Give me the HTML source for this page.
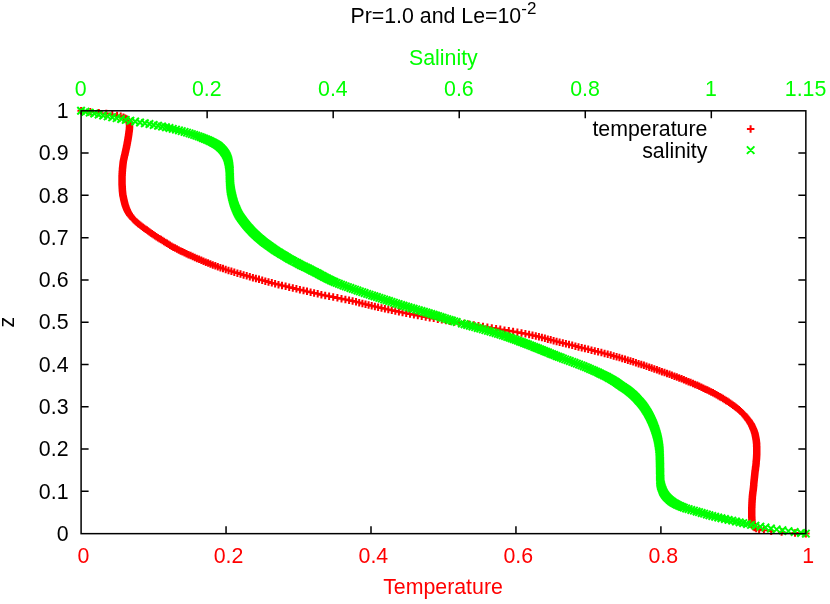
<!DOCTYPE html>
<html>
<head>
<meta charset="utf-8">
<title>Pr=1.0 and Le=10^-2</title>
<style>
html,body{margin:0;padding:0;background:#ffffff;}
body{width:830px;height:604px;overflow:hidden;font-family:"Liberation Sans",sans-serif;}
#wrap{width:830px;height:604px;will-change:transform;transform:translateZ(0);}
svg text{font-family:"Liberation Sans",sans-serif;}
</style>
</head>
<body>
<div id="wrap"><svg width="830" height="604" viewBox="0 0 830 604" style="display:block"><rect x="0" y="0" width="830" height="604" fill="#ffffff"/><g style="font-family:'Liberation Sans',sans-serif;font-size:21.33px"><text x="443.4" y="23.4" text-anchor="middle" fill="#000">Pr=1.0 and Le=10<tspan font-size="17" dy="-9.6">-2</tspan></text><text x="443.4" y="64.6" text-anchor="middle" fill="#00ff00">Salinity</text><text x="443.0" y="594" text-anchor="middle" fill="#ff0000">Temperature</text><text x="80.8" y="96.3" text-anchor="middle" fill="#00ff00">0</text><text x="206.8" y="96.3" text-anchor="middle" fill="#00ff00">0.2</text><text x="332.9" y="96.3" text-anchor="middle" fill="#00ff00">0.4</text><text x="458.9" y="96.3" text-anchor="middle" fill="#00ff00">0.6</text><text x="585.0" y="96.3" text-anchor="middle" fill="#00ff00">0.8</text><text x="711.0" y="96.3" text-anchor="middle" fill="#00ff00">1</text><text x="805.6" y="96.3" text-anchor="middle" fill="#00ff00">1.15</text><text x="83.5" y="562.7" text-anchor="middle" fill="#ff0000">0</text><text x="228.5" y="562.7" text-anchor="middle" fill="#ff0000">0.2</text><text x="373.4" y="562.7" text-anchor="middle" fill="#ff0000">0.4</text><text x="518.3" y="562.7" text-anchor="middle" fill="#ff0000">0.6</text><text x="663.3" y="562.7" text-anchor="middle" fill="#ff0000">0.8</text><text x="808.2" y="562.7" text-anchor="middle" fill="#ff0000">1</text><text x="68.5" y="540.8" text-anchor="end" fill="#000">0</text><text x="68.5" y="498.5" text-anchor="end" fill="#000">0.1</text><text x="68.5" y="456.2" text-anchor="end" fill="#000">0.2</text><text x="68.5" y="413.9" text-anchor="end" fill="#000">0.3</text><text x="68.5" y="371.6" text-anchor="end" fill="#000">0.4</text><text x="68.5" y="329.3" text-anchor="end" fill="#000">0.5</text><text x="68.5" y="287.0" text-anchor="end" fill="#000">0.6</text><text x="68.5" y="244.8" text-anchor="end" fill="#000">0.7</text><text x="68.5" y="202.5" text-anchor="end" fill="#000">0.8</text><text x="68.5" y="160.2" text-anchor="end" fill="#000">0.9</text><text x="68.5" y="117.9" text-anchor="end" fill="#000">1</text><text transform="translate(14.2 322.2) rotate(-90)" text-anchor="middle" fill="#000">z</text><text x="707.4" y="135.8" text-anchor="end" fill="#000">temperature</text><text x="707.4" y="157.7" text-anchor="end" fill="#000">salinity</text></g><path d="M77.4 110.8h7.5M81.1 107.0v7.5M86.6 111.7h7.5M90.3 108.0v7.5M95.1 112.7h7.5M98.8 108.9v7.5M102.5 113.6h7.5M106.3 109.8v7.5M108.6 114.5h7.5M112.3 110.8v7.5M113.4 115.4h7.5M117.1 111.7v7.5M117.0 116.3h7.5M120.7 112.6v7.5M119.6 117.2h7.5M123.4 113.5v7.5M121.6 118.1h7.5M125.3 114.4v7.5M122.9 119.0h7.5M126.7 115.3v7.5M123.9 119.9h7.5M127.7 116.1v7.5M124.6 120.7h7.5M128.3 117.0v7.5M125.1 121.6h7.5M128.8 117.8v7.5M125.4 122.4h7.5M129.2 118.7v7.5M125.6 123.3h7.5M129.4 119.5v7.5M125.7 124.1h7.5M129.5 120.3v7.5M125.8 124.9h7.5M129.5 121.2v7.5M125.8 125.7h7.5M129.6 122.0v7.5M125.8 126.5h7.5M129.5 122.8v7.5M125.8 127.3h7.5M129.5 123.5v7.5M125.7 128.1h7.5M129.5 124.3v7.5M125.7 128.8h7.5M129.4 125.1v7.5M125.6 129.6h7.5M129.3 125.9v7.5M125.5 130.4h7.5M129.3 126.6v7.5M125.4 131.1h7.5M129.2 127.4v7.5M125.3 131.9h7.5M129.1 128.1v7.5M125.2 132.6h7.5M129.0 128.9v7.5M125.1 133.4h7.5M128.9 129.6v7.5M125.0 134.1h7.5M128.8 130.4v7.5M124.9 134.9h7.5M128.6 131.1v7.5M124.8 135.6h7.5M128.5 131.9v7.5M124.7 136.4h7.5M128.4 132.6v7.5M124.5 137.2h7.5M128.3 133.4v7.5M124.4 137.9h7.5M128.2 134.2v7.5M124.3 138.7h7.5M128.1 135.0v7.5M124.2 139.5h7.5M127.9 135.7v7.5M124.0 140.3h7.5M127.8 136.5v7.5M123.9 141.1h7.5M127.6 137.3v7.5M123.7 141.9h7.5M127.5 138.1v7.5M123.6 142.7h7.5M127.3 139.0v7.5M123.4 143.5h7.5M127.2 139.8v7.5M123.3 144.4h7.5M127.0 140.6v7.5M123.1 145.2h7.5M126.8 141.5v7.5M122.9 146.1h7.5M126.7 142.3v7.5M122.8 147.0h7.5M126.5 143.2v7.5M122.6 147.8h7.5M126.3 144.1v7.5M122.4 148.7h7.5M126.2 145.0v7.5M122.2 149.6h7.5M126.0 145.9v7.5M122.0 150.5h7.5M125.8 146.8v7.5M121.8 151.4h7.5M125.6 147.7v7.5M121.6 152.3h7.5M125.4 148.6v7.5M121.4 153.3h7.5M125.2 149.5v7.5M121.2 154.2h7.5M124.9 150.4v7.5M121.0 155.1h7.5M124.7 151.4v7.5M120.7 156.1h7.5M124.5 152.3v7.5M120.5 157.0h7.5M124.3 153.2v7.5M120.3 157.9h7.5M124.0 154.2v7.5M120.1 158.9h7.5M123.8 155.1v7.5M119.9 159.8h7.5M123.6 156.1v7.5M119.7 160.8h7.5M123.4 157.0v7.5M119.5 161.7h7.5M123.3 158.0v7.5M119.4 162.7h7.5M123.1 158.9v7.5M119.3 163.6h7.5M123.0 159.9v7.5M119.2 164.5h7.5M122.9 160.8v7.5M119.1 165.5h7.5M122.8 161.7v7.5M119.0 166.4h7.5M122.7 162.7v7.5M118.9 167.4h7.5M122.6 163.6v7.5M118.8 168.3h7.5M122.6 164.6v7.5M118.7 169.3h7.5M122.5 165.5v7.5M118.7 170.2h7.5M122.4 166.5v7.5M118.6 171.2h7.5M122.3 167.4v7.5M118.5 172.1h7.5M122.3 168.4v7.5M118.5 173.1h7.5M122.2 169.3v7.5M118.4 174.0h7.5M122.2 170.3v7.5M118.4 175.0h7.5M122.1 171.2v7.5M118.3 175.9h7.5M122.1 172.2v7.5M118.3 176.9h7.5M122.0 173.1v7.5M118.3 177.8h7.5M122.0 174.1v7.5M118.3 178.8h7.5M122.0 175.0v7.5M118.3 179.7h7.5M122.0 176.0v7.5M118.3 180.7h7.5M122.0 176.9v7.5M118.3 181.6h7.5M122.0 177.9v7.5M118.3 182.6h7.5M122.0 178.8v7.5M118.3 183.5h7.5M122.1 179.8v7.5M118.3 184.5h7.5M122.1 180.7v7.5M118.4 185.4h7.5M122.1 181.7v7.5M118.4 186.4h7.5M122.2 182.6v7.5M118.5 187.3h7.5M122.2 183.6v7.5M118.5 188.3h7.5M122.3 184.5v7.5M118.6 189.2h7.5M122.3 185.5v7.5M118.6 190.2h7.5M122.4 186.4v7.5M118.7 191.1h7.5M122.5 187.4v7.5M118.8 192.1h7.5M122.5 188.3v7.5M118.9 193.0h7.5M122.6 189.3v7.5M119.0 194.0h7.5M122.7 190.2v7.5M119.1 194.9h7.5M122.8 191.2v7.5M119.3 195.9h7.5M123.0 192.1v7.5M119.5 196.8h7.5M123.2 193.1v7.5M119.7 197.8h7.5M123.4 194.0v7.5M119.9 198.7h7.5M123.6 195.0v7.5M120.1 199.7h7.5M123.8 195.9v7.5M120.3 200.6h7.5M124.1 196.9v7.5M120.5 201.6h7.5M124.3 197.8v7.5M120.8 202.5h7.5M124.5 198.8v7.5M121.0 203.5h7.5M124.8 199.7v7.5M121.3 204.4h7.5M125.1 200.7v7.5M121.6 205.4h7.5M125.3 201.6v7.5M121.9 206.3h7.5M125.6 202.6v7.5M122.2 207.3h7.5M126.0 203.5v7.5M122.6 208.2h7.5M126.3 204.5v7.5M123.0 209.2h7.5M126.7 205.4v7.5M123.4 210.1h7.5M127.1 206.4v7.5M123.8 211.1h7.5M127.6 207.3v7.5M124.3 212.0h7.5M128.1 208.3v7.5M124.9 213.0h7.5M128.6 209.2v7.5M125.5 213.9h7.5M129.2 210.2v7.5M126.1 214.9h7.5M129.9 211.1v7.5M126.8 215.8h7.5M130.6 212.1v7.5M127.6 216.8h7.5M131.3 213.0v7.5M128.4 217.7h7.5M132.1 214.0v7.5M129.2 218.7h7.5M132.9 214.9v7.5M130.1 219.6h7.5M133.8 215.9v7.5M131.1 220.6h7.5M134.8 216.8v7.5M132.1 221.5h7.5M135.8 217.8v7.5M133.2 222.5h7.5M136.9 218.7v7.5M134.3 223.4h7.5M138.0 219.7v7.5M135.4 224.4h7.5M139.2 220.6v7.5M136.6 225.3h7.5M140.4 221.6v7.5M137.9 226.3h7.5M141.6 222.5v7.5M139.2 227.2h7.5M142.9 223.5v7.5M140.5 228.2h7.5M144.2 224.4v7.5M141.8 229.1h7.5M145.6 225.4v7.5M143.1 230.1h7.5M146.9 226.3v7.5M144.4 231.0h7.5M148.2 227.3v7.5M145.7 232.0h7.5M149.5 228.2v7.5M147.0 232.9h7.5M150.8 229.2v7.5M148.4 233.9h7.5M152.1 230.1v7.5M149.7 234.8h7.5M153.5 231.1v7.5M151.2 235.8h7.5M154.9 232.0v7.5M152.7 236.7h7.5M156.4 233.0v7.5M154.2 237.7h7.5M157.9 233.9v7.5M155.7 238.6h7.5M159.5 234.9v7.5M157.3 239.6h7.5M161.0 235.8v7.5M158.8 240.5h7.5M162.5 236.8v7.5M160.3 241.5h7.5M164.0 237.7v7.5M161.7 242.4h7.5M165.5 238.7v7.5M163.2 243.4h7.5M167.0 239.6v7.5M164.7 244.3h7.5M168.5 240.5v7.5M166.3 245.2h7.5M170.0 241.5v7.5M167.9 246.2h7.5M171.6 242.4v7.5M169.6 247.1h7.5M173.3 243.4v7.5M171.3 248.1h7.5M175.1 244.3v7.5M173.1 249.0h7.5M176.9 245.3v7.5M175.0 250.0h7.5M178.7 246.2v7.5M176.9 250.9h7.5M180.6 247.2v7.5M178.8 251.8h7.5M182.5 248.1v7.5M180.7 252.8h7.5M184.5 249.0v7.5M182.7 253.7h7.5M186.5 250.0v7.5M184.8 254.7h7.5M188.5 250.9v7.5M186.8 255.6h7.5M190.6 251.8v7.5M188.9 256.5h7.5M192.7 252.8v7.5M191.0 257.5h7.5M194.8 253.7v7.5M193.2 258.4h7.5M196.9 254.7v7.5M195.3 259.3h7.5M199.1 255.6v7.5M197.5 260.3h7.5M201.3 256.5v7.5M199.8 261.2h7.5M203.5 257.4v7.5M202.0 262.1h7.5M205.8 258.4v7.5M204.3 263.1h7.5M208.1 259.3v7.5M206.7 264.0h7.5M210.4 260.2v7.5M209.1 264.9h7.5M212.8 261.2v7.5M211.5 265.8h7.5M215.3 262.1v7.5M214.1 266.7h7.5M217.8 263.0v7.5M216.6 267.7h7.5M220.4 263.9v7.5M219.2 268.6h7.5M223.0 264.8v7.5M221.9 269.5h7.5M225.7 265.7v7.5M224.7 270.4h7.5M228.5 266.7v7.5M227.6 271.3h7.5M231.4 267.6v7.5M230.6 272.2h7.5M234.3 268.5v7.5M233.6 273.1h7.5M237.4 269.4v7.5M236.7 274.0h7.5M240.5 270.3v7.5M239.8 274.9h7.5M243.6 271.2v7.5M242.9 275.8h7.5M246.7 272.1v7.5M246.0 276.7h7.5M249.8 273.0v7.5M249.1 277.6h7.5M252.9 273.9v7.5M252.2 278.5h7.5M255.9 274.7v7.5M255.3 279.4h7.5M259.0 275.6v7.5M258.4 280.3h7.5M262.2 276.5v7.5M261.6 281.1h7.5M265.3 277.4v7.5M264.8 282.0h7.5M268.5 278.3v7.5M268.0 282.9h7.5M271.8 279.1v7.5M271.4 283.7h7.5M275.1 280.0v7.5M274.8 284.6h7.5M278.5 280.9v7.5M278.3 285.5h7.5M282.0 281.7v7.5M281.8 286.3h7.5M285.6 282.6v7.5M285.4 287.2h7.5M289.2 283.4v7.5M289.0 288.0h7.5M292.8 284.3v7.5M292.6 288.9h7.5M296.4 285.1v7.5M296.2 289.7h7.5M299.9 285.9v7.5M299.7 290.5h7.5M303.5 286.8v7.5M303.3 291.4h7.5M307.0 287.6v7.5M306.8 292.2h7.5M310.6 288.4v7.5M310.4 293.0h7.5M314.1 289.3v7.5M314.0 293.8h7.5M317.7 290.1v7.5M317.7 294.7h7.5M321.4 290.9v7.5M321.4 295.5h7.5M325.2 291.7v7.5M325.4 296.3h7.5M329.1 292.5v7.5M329.5 297.1h7.5M333.2 293.3v7.5M333.6 297.9h7.5M337.4 294.1v7.5M337.7 298.7h7.5M341.5 294.9v7.5M341.7 299.5h7.5M345.4 295.7v7.5M345.4 300.3h7.5M349.1 296.5v7.5M348.9 301.1h7.5M352.6 297.3v7.5M352.2 301.8h7.5M356.0 298.1v7.5M355.5 302.6h7.5M359.2 298.9v7.5M358.6 303.4h7.5M362.4 299.7v7.5M361.7 304.2h7.5M365.5 300.4v7.5M364.8 304.9h7.5M368.6 301.2v7.5M367.9 305.7h7.5M371.7 302.0v7.5M371.1 306.5h7.5M374.9 302.7v7.5M374.4 307.2h7.5M378.1 303.5v7.5M377.7 308.0h7.5M381.5 304.2v7.5M381.1 308.8h7.5M384.9 305.0v7.5M384.5 309.5h7.5M388.3 305.8v7.5M388.0 310.3h7.5M391.8 306.5v7.5M391.6 311.0h7.5M395.3 307.3v7.5M395.1 311.8h7.5M398.9 308.0v7.5M398.8 312.5h7.5M402.5 308.7v7.5M402.5 313.2h7.5M406.2 309.5v7.5M406.2 314.0h7.5M410.0 310.2v7.5M410.1 314.7h7.5M413.9 311.0v7.5M414.0 315.5h7.5M417.8 311.7v7.5M418.0 316.2h7.5M421.7 312.4v7.5M422.0 316.9h7.5M425.7 313.2v7.5M426.0 317.7h7.5M429.7 313.9v7.5M430.0 318.4h7.5M433.7 314.6v7.5M434.0 319.1h7.5M437.8 315.4v7.5M438.1 319.9h7.5M441.8 316.1v7.5M442.2 320.6h7.5M445.9 316.8v7.5M446.4 321.3h7.5M450.1 317.6v7.5M450.8 322.1h7.5M454.5 318.3v7.5M455.4 322.8h7.5M459.1 319.0v7.5M460.2 323.5h7.5M464.0 319.8v7.5M465.1 324.2h7.5M468.9 320.5v7.5M470.0 325.0h7.5M473.8 321.2v7.5M474.7 325.7h7.5M478.5 322.0v7.5M479.3 326.4h7.5M483.0 322.7v7.5M483.7 327.2h7.5M487.4 323.4v7.5M488.0 327.9h7.5M491.8 324.2v7.5M492.3 328.6h7.5M496.1 324.9v7.5M496.5 329.4h7.5M500.3 325.6v7.5M500.8 330.1h7.5M504.5 326.4v7.5M505.0 330.8h7.5M508.8 327.1v7.5M509.3 331.6h7.5M513.1 327.8v7.5M513.6 332.3h7.5M517.4 328.6v7.5M517.7 333.1h7.5M521.5 329.3v7.5M521.7 333.8h7.5M525.4 330.1v7.5M525.4 334.6h7.5M529.1 330.8v7.5M528.8 335.3h7.5M532.5 331.6v7.5M532.0 336.1h7.5M535.8 332.3v7.5M535.2 336.8h7.5M538.9 333.1v7.5M538.2 337.6h7.5M541.9 333.8v7.5M541.1 338.3h7.5M544.9 334.6v7.5M544.1 339.1h7.5M547.8 335.4v7.5M546.9 339.9h7.5M550.7 336.1v7.5M549.9 340.6h7.5M553.6 336.9v7.5M552.8 341.4h7.5M556.6 337.7v7.5M555.9 342.2h7.5M559.6 338.4v7.5M559.0 343.0h7.5M562.8 339.2v7.5M562.1 343.7h7.5M565.9 340.0v7.5M565.3 344.5h7.5M569.0 340.8v7.5M568.4 345.3h7.5M572.2 341.6v7.5M571.6 346.1h7.5M575.4 342.4v7.5M574.8 346.9h7.5M578.5 343.2v7.5M578.0 347.7h7.5M581.7 344.0v7.5M581.2 348.5h7.5M584.9 344.8v7.5M584.4 349.3h7.5M588.2 345.6v7.5M587.7 350.1h7.5M591.5 346.4v7.5M591.0 350.9h7.5M594.8 347.2v7.5M594.3 351.8h7.5M598.1 348.0v7.5M597.6 352.6h7.5M601.4 348.8v7.5M600.8 353.4h7.5M604.6 349.7v7.5M604.0 354.2h7.5M607.7 350.5v7.5M607.0 355.1h7.5M610.7 351.3v7.5M609.9 355.9h7.5M613.7 352.2v7.5M612.8 356.8h7.5M616.6 353.0v7.5M615.7 357.6h7.5M619.4 353.8v7.5M618.5 358.4h7.5M622.2 354.7v7.5M621.3 359.3h7.5M625.0 355.6v7.5M624.0 360.2h7.5M627.8 356.4v7.5M626.7 361.0h7.5M630.5 357.3v7.5M629.5 361.9h7.5M633.2 358.1v7.5M632.2 362.8h7.5M635.9 359.0v7.5M634.9 363.6h7.5M638.6 359.9v7.5M637.5 364.5h7.5M641.3 360.7v7.5M640.2 365.4h7.5M643.9 361.6v7.5M642.8 366.3h7.5M646.5 362.5v7.5M645.4 367.1h7.5M649.2 363.4v7.5M648.0 368.0h7.5M651.7 364.3v7.5M650.6 368.9h7.5M654.3 365.2v7.5M653.1 369.8h7.5M656.9 366.1v7.5M655.7 370.7h7.5M659.4 367.0v7.5M658.2 371.6h7.5M661.9 367.9v7.5M660.7 372.5h7.5M664.5 368.8v7.5M663.2 373.4h7.5M667.0 369.7v7.5M665.7 374.3h7.5M669.5 370.6v7.5M668.2 375.2h7.5M671.9 371.5v7.5M670.7 376.1h7.5M674.4 372.4v7.5M673.1 377.1h7.5M676.8 373.3v7.5M675.5 378.0h7.5M679.2 374.2v7.5M677.9 378.9h7.5M681.6 375.1v7.5M680.2 379.8h7.5M683.9 376.1v7.5M682.5 380.7h7.5M686.2 377.0v7.5M684.8 381.7h7.5M688.5 377.9v7.5M687.0 382.6h7.5M690.7 378.8v7.5M689.2 383.5h7.5M693.0 379.8v7.5M691.4 384.4h7.5M695.1 380.7v7.5M693.5 385.4h7.5M697.3 381.6v7.5M695.6 386.3h7.5M699.3 382.6v7.5M697.6 387.2h7.5M701.4 383.5v7.5M699.7 388.2h7.5M703.4 384.4v7.5M701.7 389.1h7.5M705.4 385.4v7.5M703.6 390.0h7.5M707.4 386.3v7.5M705.5 391.0h7.5M709.3 387.2v7.5M707.4 391.9h7.5M711.2 388.2v7.5M709.2 392.9h7.5M713.0 389.1v7.5M711.0 393.8h7.5M714.7 390.1v7.5M712.7 394.7h7.5M716.5 391.0v7.5M714.4 395.7h7.5M718.2 391.9v7.5M716.1 396.6h7.5M719.8 392.9v7.5M717.7 397.6h7.5M721.4 393.8v7.5M719.2 398.5h7.5M723.0 394.8v7.5M720.8 399.5h7.5M724.5 395.7v7.5M722.3 400.4h7.5M726.0 396.7v7.5M723.7 401.3h7.5M727.5 397.6v7.5M725.1 402.3h7.5M728.9 398.5v7.5M726.6 403.2h7.5M730.3 399.5v7.5M727.9 404.2h7.5M731.7 400.4v7.5M729.3 405.1h7.5M733.0 401.4v7.5M730.6 406.1h7.5M734.3 402.3v7.5M731.8 407.0h7.5M735.5 403.3v7.5M733.0 408.0h7.5M736.7 404.2v7.5M734.1 408.9h7.5M737.9 405.2v7.5M735.2 409.9h7.5M739.0 406.1v7.5M736.3 410.8h7.5M740.0 407.1v7.5M737.3 411.8h7.5M741.1 408.0v7.5M738.3 412.7h7.5M742.0 409.0v7.5M739.3 413.7h7.5M743.0 409.9v7.5M740.2 414.6h7.5M743.9 410.9v7.5M741.0 415.6h7.5M744.8 411.8v7.5M741.8 416.5h7.5M745.6 412.8v7.5M742.6 417.5h7.5M746.4 413.7v7.5M743.4 418.4h7.5M747.1 414.7v7.5M744.1 419.4h7.5M747.9 415.6v7.5M744.8 420.3h7.5M748.6 416.6v7.5M745.5 421.3h7.5M749.2 417.5v7.5M746.1 422.2h7.5M749.9 418.5v7.5M746.7 423.2h7.5M750.5 419.4v7.5M747.3 424.1h7.5M751.0 420.4v7.5M747.8 425.1h7.5M751.5 421.3v7.5M748.2 426.0h7.5M752.0 422.3v7.5M748.7 427.0h7.5M752.4 423.2v7.5M749.1 427.9h7.5M752.9 424.2v7.5M749.5 428.9h7.5M753.3 425.1v7.5M749.9 429.8h7.5M753.7 426.1v7.5M750.3 430.8h7.5M754.0 427.0v7.5M750.6 431.7h7.5M754.4 428.0v7.5M750.9 432.7h7.5M754.7 428.9v7.5M751.2 433.6h7.5M754.9 429.9v7.5M751.4 434.6h7.5M755.1 430.8v7.5M751.6 435.5h7.5M755.3 431.8v7.5M751.8 436.5h7.5M755.5 432.7v7.5M752.0 437.4h7.5M755.7 433.7v7.5M752.2 438.4h7.5M755.9 434.6v7.5M752.3 439.3h7.5M756.1 435.6v7.5M752.5 440.3h7.5M756.2 436.5v7.5M752.6 441.2h7.5M756.4 437.5v7.5M752.7 442.2h7.5M756.5 438.4v7.5M752.8 443.1h7.5M756.5 439.4v7.5M752.9 444.1h7.5M756.6 440.3v7.5M752.9 445.0h7.5M756.6 441.3v7.5M752.9 446.0h7.5M756.7 442.2v7.5M753.0 446.9h7.5M756.7 443.2v7.5M753.0 447.9h7.5M756.7 444.1v7.5M753.0 448.8h7.5M756.8 445.1v7.5M753.0 449.8h7.5M756.8 446.0v7.5M753.0 450.7h7.5M756.8 447.0v7.5M753.0 451.7h7.5M756.8 447.9v7.5M753.0 452.6h7.5M756.8 448.9v7.5M753.0 453.6h7.5M756.8 449.8v7.5M753.0 454.5h7.5M756.7 450.8v7.5M752.9 455.5h7.5M756.7 451.7v7.5M752.9 456.4h7.5M756.6 452.7v7.5M752.8 457.4h7.5M756.6 453.6v7.5M752.8 458.3h7.5M756.5 454.6v7.5M752.7 459.3h7.5M756.4 455.5v7.5M752.6 460.2h7.5M756.4 456.5v7.5M752.5 461.2h7.5M756.3 457.4v7.5M752.4 462.1h7.5M756.2 458.4v7.5M752.4 463.1h7.5M756.1 459.3v7.5M752.3 464.0h7.5M756.0 460.3v7.5M752.2 465.0h7.5M755.9 461.2v7.5M752.1 465.9h7.5M755.8 462.2v7.5M751.9 466.9h7.5M755.7 463.1v7.5M751.8 467.8h7.5M755.6 464.1v7.5M751.7 468.8h7.5M755.4 465.0v7.5M751.6 469.7h7.5M755.3 466.0v7.5M751.4 470.7h7.5M755.2 466.9v7.5M751.3 471.6h7.5M755.0 467.9v7.5M751.2 472.6h7.5M754.9 468.8v7.5M751.1 473.5h7.5M754.8 469.8v7.5M751.0 474.5h7.5M754.7 470.7v7.5M750.9 475.4h7.5M754.6 471.7v7.5M750.8 476.4h7.5M754.5 472.6v7.5M750.7 477.3h7.5M754.4 473.6v7.5M750.6 478.3h7.5M754.3 474.5v7.5M750.5 479.2h7.5M754.2 475.4v7.5M750.4 480.1h7.5M754.1 476.4v7.5M750.3 481.1h7.5M754.1 477.3v7.5M750.2 482.0h7.5M754.0 478.3v7.5M750.1 483.0h7.5M753.9 479.2v7.5M750.0 483.9h7.5M753.8 480.2v7.5M750.0 484.9h7.5M753.7 481.1v7.5M749.9 485.8h7.5M753.6 482.1v7.5M749.8 486.8h7.5M753.5 483.0v7.5M749.7 487.7h7.5M753.4 484.0v7.5M749.6 488.7h7.5M753.3 484.9v7.5M749.5 489.6h7.5M753.2 485.8v7.5M749.4 490.5h7.5M753.1 486.8v7.5M749.2 491.5h7.5M753.0 487.7v7.5M749.1 492.4h7.5M752.9 488.6v7.5M749.0 493.3h7.5M752.8 489.5v7.5M748.9 494.2h7.5M752.7 490.5v7.5M748.8 495.1h7.5M752.6 491.4v7.5M748.7 496.0h7.5M752.5 492.3v7.5M748.6 496.9h7.5M752.4 493.2v7.5M748.6 497.8h7.5M752.3 494.0v7.5M748.5 498.7h7.5M752.2 494.9v7.5M748.4 499.5h7.5M752.2 495.8v7.5M748.4 500.4h7.5M752.1 496.6v7.5M748.3 501.2h7.5M752.1 497.5v7.5M748.3 502.1h7.5M752.0 498.3v7.5M748.2 502.9h7.5M752.0 499.1v7.5M748.2 503.7h7.5M752.0 500.0v7.5M748.2 504.5h7.5M751.9 500.8v7.5M748.1 505.3h7.5M751.9 501.6v7.5M748.1 506.1h7.5M751.8 502.4v7.5M748.1 506.9h7.5M751.8 503.1v7.5M748.0 507.7h7.5M751.8 503.9v7.5M748.0 508.4h7.5M751.8 504.7v7.5M748.0 509.2h7.5M751.7 505.4v7.5M748.0 509.9h7.5M751.7 506.2v7.5M748.0 510.7h7.5M751.7 506.9v7.5M748.0 511.4h7.5M751.7 507.7v7.5M748.0 512.2h7.5M751.7 508.4v7.5M748.0 512.9h7.5M751.7 509.2v7.5M748.0 513.7h7.5M751.7 509.9v7.5M748.0 514.4h7.5M751.7 510.7v7.5M748.0 515.2h7.5M751.7 511.5v7.5M748.0 516.0h7.5M751.8 512.2v7.5M748.0 516.7h7.5M751.8 513.0v7.5M748.1 517.5h7.5M751.8 513.8v7.5M748.1 518.3h7.5M751.8 514.5v7.5M748.1 519.1h7.5M751.9 515.3v7.5M748.2 519.9h7.5M751.9 516.1v7.5M748.2 520.7h7.5M751.9 516.9v7.5M748.2 521.5h7.5M752.0 517.8v7.5M748.3 522.3h7.5M752.0 518.6v7.5M748.3 523.2h7.5M752.1 519.4v7.5M748.5 524.0h7.5M752.2 520.3v7.5M748.7 524.9h7.5M752.4 521.1v7.5M749.0 525.7h7.5M752.8 522.0v7.5M749.7 526.6h7.5M753.4 522.9v7.5M750.7 527.5h7.5M754.5 523.8v7.5M752.5 528.4h7.5M756.2 524.7v7.5M755.4 529.3h7.5M759.1 525.6v7.5M760.1 530.2h7.5M763.9 526.5v7.5M767.4 531.1h7.5M771.2 527.4v7.5M777.9 532.1h7.5M781.6 528.3v7.5M791.3 533.0h7.5M795.0 529.2v7.5M802.1 533.6h7.5M805.9 529.9v7.5M746.9 128.9h7.5M750.6 125.2v7.5" stroke="#ff0000" stroke-width="2.0" fill="none"/><path d="M77.3 107.0l7.5 7.5M77.3 114.5l7.5 -7.5M81.7 108.0l7.5 7.5M81.7 115.5l7.5 -7.5M86.0 108.9l7.5 7.5M86.0 116.4l7.5 -7.5M90.5 109.8l7.5 7.5M90.5 117.3l7.5 -7.5M94.9 110.8l7.5 7.5M94.9 118.3l7.5 -7.5M99.4 111.7l7.5 7.5M99.4 119.2l7.5 -7.5M103.9 112.6l7.5 7.5M103.9 120.1l7.5 -7.5M108.4 113.5l7.5 7.5M108.4 121.0l7.5 -7.5M112.9 114.4l7.5 7.5M112.9 121.9l7.5 -7.5M117.4 115.3l7.5 7.5M117.4 122.8l7.5 -7.5M122.0 116.1l7.5 7.5M122.0 123.6l7.5 -7.5M126.6 117.0l7.5 7.5M126.6 124.5l7.5 -7.5M131.4 117.8l7.5 7.5M131.4 125.3l7.5 -7.5M136.3 118.7l7.5 7.5M136.3 126.2l7.5 -7.5M141.1 119.5l7.5 7.5M141.1 127.0l7.5 -7.5M145.7 120.3l7.5 7.5M145.7 127.8l7.5 -7.5M150.0 121.2l7.5 7.5M150.0 128.7l7.5 -7.5M154.3 122.0l7.5 7.5M154.3 129.5l7.5 -7.5M158.3 122.8l7.5 7.5M158.3 130.3l7.5 -7.5M162.2 123.5l7.5 7.5M162.2 131.0l7.5 -7.5M165.7 124.3l7.5 7.5M165.7 131.8l7.5 -7.5M169.0 125.1l7.5 7.5M169.0 132.6l7.5 -7.5M172.2 125.9l7.5 7.5M172.2 133.4l7.5 -7.5M175.2 126.6l7.5 7.5M175.2 134.1l7.5 -7.5M178.0 127.4l7.5 7.5M178.0 134.9l7.5 -7.5M180.8 128.1l7.5 7.5M180.8 135.6l7.5 -7.5M183.3 128.9l7.5 7.5M183.3 136.4l7.5 -7.5M185.8 129.6l7.5 7.5M185.8 137.1l7.5 -7.5M188.1 130.4l7.5 7.5M188.1 137.9l7.5 -7.5M190.4 131.1l7.5 7.5M190.4 138.6l7.5 -7.5M192.6 131.9l7.5 7.5M192.6 139.4l7.5 -7.5M194.8 132.6l7.5 7.5M194.8 140.1l7.5 -7.5M196.9 133.4l7.5 7.5M196.9 140.9l7.5 -7.5M198.9 134.2l7.5 7.5M198.9 141.7l7.5 -7.5M200.8 135.0l7.5 7.5M200.8 142.5l7.5 -7.5M202.7 135.7l7.5 7.5M202.7 143.2l7.5 -7.5M204.5 136.5l7.5 7.5M204.5 144.0l7.5 -7.5M206.2 137.3l7.5 7.5M206.2 144.8l7.5 -7.5M207.9 138.1l7.5 7.5M207.9 145.6l7.5 -7.5M209.4 139.0l7.5 7.5M209.4 146.5l7.5 -7.5M211.0 139.8l7.5 7.5M211.0 147.3l7.5 -7.5M212.4 140.6l7.5 7.5M212.4 148.1l7.5 -7.5M213.7 141.5l7.5 7.5M213.7 149.0l7.5 -7.5M214.9 142.3l7.5 7.5M214.9 149.8l7.5 -7.5M215.9 143.2l7.5 7.5M215.9 150.7l7.5 -7.5M216.9 144.1l7.5 7.5M216.9 151.6l7.5 -7.5M217.8 145.0l7.5 7.5M217.8 152.5l7.5 -7.5M218.6 145.9l7.5 7.5M218.6 153.4l7.5 -7.5M219.4 146.8l7.5 7.5M219.4 154.3l7.5 -7.5M220.1 147.7l7.5 7.5M220.1 155.2l7.5 -7.5M220.7 148.6l7.5 7.5M220.7 156.1l7.5 -7.5M221.3 149.5l7.5 7.5M221.3 157.0l7.5 -7.5M221.9 150.4l7.5 7.5M221.9 157.9l7.5 -7.5M222.4 151.4l7.5 7.5M222.4 158.9l7.5 -7.5M222.9 152.3l7.5 7.5M222.9 159.8l7.5 -7.5M223.3 153.2l7.5 7.5M223.3 160.7l7.5 -7.5M223.7 154.2l7.5 7.5M223.7 161.7l7.5 -7.5M224.0 155.1l7.5 7.5M224.0 162.6l7.5 -7.5M224.3 156.1l7.5 7.5M224.3 163.6l7.5 -7.5M224.5 157.0l7.5 7.5M224.5 164.5l7.5 -7.5M224.7 158.0l7.5 7.5M224.7 165.5l7.5 -7.5M224.9 158.9l7.5 7.5M224.9 166.4l7.5 -7.5M225.1 159.9l7.5 7.5M225.1 167.4l7.5 -7.5M225.2 160.8l7.5 7.5M225.2 168.3l7.5 -7.5M225.4 161.7l7.5 7.5M225.4 169.2l7.5 -7.5M225.5 162.7l7.5 7.5M225.5 170.2l7.5 -7.5M225.6 163.6l7.5 7.5M225.6 171.1l7.5 -7.5M225.7 164.6l7.5 7.5M225.7 172.1l7.5 -7.5M225.8 165.5l7.5 7.5M225.8 173.0l7.5 -7.5M225.9 166.5l7.5 7.5M225.9 174.0l7.5 -7.5M225.9 167.4l7.5 7.5M225.9 174.9l7.5 -7.5M225.9 168.4l7.5 7.5M225.9 175.9l7.5 -7.5M226.0 169.3l7.5 7.5M226.0 176.8l7.5 -7.5M226.0 170.3l7.5 7.5M226.0 177.8l7.5 -7.5M226.0 171.2l7.5 7.5M226.0 178.7l7.5 -7.5M226.0 172.2l7.5 7.5M226.0 179.7l7.5 -7.5M226.1 173.1l7.5 7.5M226.1 180.6l7.5 -7.5M226.1 174.1l7.5 7.5M226.1 181.6l7.5 -7.5M226.1 175.0l7.5 7.5M226.1 182.5l7.5 -7.5M226.2 176.0l7.5 7.5M226.2 183.5l7.5 -7.5M226.2 176.9l7.5 7.5M226.2 184.4l7.5 -7.5M226.3 177.9l7.5 7.5M226.3 185.4l7.5 -7.5M226.3 178.8l7.5 7.5M226.3 186.3l7.5 -7.5M226.4 179.8l7.5 7.5M226.4 187.3l7.5 -7.5M226.4 180.7l7.5 7.5M226.4 188.2l7.5 -7.5M226.5 181.7l7.5 7.5M226.5 189.2l7.5 -7.5M226.6 182.6l7.5 7.5M226.6 190.1l7.5 -7.5M226.7 183.6l7.5 7.5M226.7 191.1l7.5 -7.5M226.8 184.5l7.5 7.5M226.8 192.0l7.5 -7.5M226.9 185.5l7.5 7.5M226.9 193.0l7.5 -7.5M227.1 186.4l7.5 7.5M227.1 193.9l7.5 -7.5M227.2 187.4l7.5 7.5M227.2 194.9l7.5 -7.5M227.4 188.3l7.5 7.5M227.4 195.8l7.5 -7.5M227.6 189.3l7.5 7.5M227.6 196.8l7.5 -7.5M227.8 190.2l7.5 7.5M227.8 197.7l7.5 -7.5M228.0 191.2l7.5 7.5M228.0 198.7l7.5 -7.5M228.2 192.1l7.5 7.5M228.2 199.6l7.5 -7.5M228.4 193.1l7.5 7.5M228.4 200.6l7.5 -7.5M228.7 194.0l7.5 7.5M228.7 201.5l7.5 -7.5M228.9 195.0l7.5 7.5M228.9 202.5l7.5 -7.5M229.1 195.9l7.5 7.5M229.1 203.4l7.5 -7.5M229.4 196.9l7.5 7.5M229.4 204.4l7.5 -7.5M229.7 197.8l7.5 7.5M229.7 205.3l7.5 -7.5M229.9 198.8l7.5 7.5M229.9 206.3l7.5 -7.5M230.2 199.7l7.5 7.5M230.2 207.2l7.5 -7.5M230.6 200.7l7.5 7.5M230.6 208.2l7.5 -7.5M230.9 201.6l7.5 7.5M230.9 209.1l7.5 -7.5M231.2 202.6l7.5 7.5M231.2 210.1l7.5 -7.5M231.6 203.5l7.5 7.5M231.6 211.0l7.5 -7.5M232.0 204.5l7.5 7.5M232.0 212.0l7.5 -7.5M232.4 205.4l7.5 7.5M232.4 212.9l7.5 -7.5M232.8 206.4l7.5 7.5M232.8 213.9l7.5 -7.5M233.2 207.3l7.5 7.5M233.2 214.8l7.5 -7.5M233.6 208.3l7.5 7.5M233.6 215.8l7.5 -7.5M234.1 209.2l7.5 7.5M234.1 216.7l7.5 -7.5M234.6 210.2l7.5 7.5M234.6 217.7l7.5 -7.5M235.1 211.1l7.5 7.5M235.1 218.6l7.5 -7.5M235.7 212.1l7.5 7.5M235.7 219.6l7.5 -7.5M236.3 213.0l7.5 7.5M236.3 220.5l7.5 -7.5M237.0 214.0l7.5 7.5M237.0 221.5l7.5 -7.5M237.6 214.9l7.5 7.5M237.6 222.4l7.5 -7.5M238.3 215.9l7.5 7.5M238.3 223.4l7.5 -7.5M239.0 216.8l7.5 7.5M239.0 224.3l7.5 -7.5M239.7 217.8l7.5 7.5M239.7 225.3l7.5 -7.5M240.5 218.7l7.5 7.5M240.5 226.2l7.5 -7.5M241.2 219.7l7.5 7.5M241.2 227.2l7.5 -7.5M242.0 220.6l7.5 7.5M242.0 228.1l7.5 -7.5M242.7 221.6l7.5 7.5M242.7 229.1l7.5 -7.5M243.5 222.5l7.5 7.5M243.5 230.0l7.5 -7.5M244.3 223.5l7.5 7.5M244.3 231.0l7.5 -7.5M245.2 224.4l7.5 7.5M245.2 231.9l7.5 -7.5M246.0 225.4l7.5 7.5M246.0 232.9l7.5 -7.5M246.9 226.3l7.5 7.5M246.9 233.8l7.5 -7.5M247.8 227.3l7.5 7.5M247.8 234.8l7.5 -7.5M248.7 228.2l7.5 7.5M248.7 235.7l7.5 -7.5M249.7 229.2l7.5 7.5M249.7 236.7l7.5 -7.5M250.7 230.1l7.5 7.5M250.7 237.6l7.5 -7.5M251.7 231.1l7.5 7.5M251.7 238.6l7.5 -7.5M252.7 232.0l7.5 7.5M252.7 239.5l7.5 -7.5M253.7 233.0l7.5 7.5M253.7 240.5l7.5 -7.5M254.8 233.9l7.5 7.5M254.8 241.4l7.5 -7.5M255.9 234.9l7.5 7.5M255.9 242.4l7.5 -7.5M257.0 235.8l7.5 7.5M257.0 243.3l7.5 -7.5M258.2 236.8l7.5 7.5M258.2 244.3l7.5 -7.5M259.3 237.7l7.5 7.5M259.3 245.2l7.5 -7.5M260.6 238.7l7.5 7.5M260.6 246.2l7.5 -7.5M261.8 239.6l7.5 7.5M261.8 247.1l7.5 -7.5M263.1 240.5l7.5 7.5M263.1 248.0l7.5 -7.5M264.4 241.5l7.5 7.5M264.4 249.0l7.5 -7.5M265.7 242.4l7.5 7.5M265.7 249.9l7.5 -7.5M267.0 243.4l7.5 7.5M267.0 250.9l7.5 -7.5M268.3 244.3l7.5 7.5M268.3 251.8l7.5 -7.5M269.7 245.3l7.5 7.5M269.7 252.8l7.5 -7.5M271.1 246.2l7.5 7.5M271.1 253.7l7.5 -7.5M272.6 247.2l7.5 7.5M272.6 254.7l7.5 -7.5M274.0 248.1l7.5 7.5M274.0 255.6l7.5 -7.5M275.5 249.0l7.5 7.5M275.5 256.5l7.5 -7.5M277.0 250.0l7.5 7.5M277.0 257.5l7.5 -7.5M278.5 250.9l7.5 7.5M278.5 258.4l7.5 -7.5M280.1 251.8l7.5 7.5M280.1 259.3l7.5 -7.5M281.7 252.8l7.5 7.5M281.7 260.3l7.5 -7.5M283.3 253.7l7.5 7.5M283.3 261.2l7.5 -7.5M284.9 254.7l7.5 7.5M284.9 262.2l7.5 -7.5M286.5 255.6l7.5 7.5M286.5 263.1l7.5 -7.5M288.2 256.5l7.5 7.5M288.2 264.0l7.5 -7.5M289.8 257.4l7.5 7.5M289.8 264.9l7.5 -7.5M291.6 258.4l7.5 7.5M291.6 265.9l7.5 -7.5M293.4 259.3l7.5 7.5M293.4 266.8l7.5 -7.5M295.2 260.2l7.5 7.5M295.2 267.7l7.5 -7.5M297.0 261.2l7.5 7.5M297.0 268.7l7.5 -7.5M298.8 262.1l7.5 7.5M298.8 269.6l7.5 -7.5M300.7 263.0l7.5 7.5M300.7 270.5l7.5 -7.5M302.6 263.9l7.5 7.5M302.6 271.4l7.5 -7.5M304.4 264.8l7.5 7.5M304.4 272.3l7.5 -7.5M306.3 265.7l7.5 7.5M306.3 273.2l7.5 -7.5M308.1 266.7l7.5 7.5M308.1 274.2l7.5 -7.5M309.9 267.6l7.5 7.5M309.9 275.1l7.5 -7.5M311.6 268.5l7.5 7.5M311.6 276.0l7.5 -7.5M313.4 269.4l7.5 7.5M313.4 276.9l7.5 -7.5M315.0 270.3l7.5 7.5M315.0 277.8l7.5 -7.5M316.7 271.2l7.5 7.5M316.7 278.7l7.5 -7.5M318.4 272.1l7.5 7.5M318.4 279.6l7.5 -7.5M320.0 273.0l7.5 7.5M320.0 280.5l7.5 -7.5M321.7 273.9l7.5 7.5M321.7 281.4l7.5 -7.5M323.4 274.7l7.5 7.5M323.4 282.2l7.5 -7.5M325.2 275.6l7.5 7.5M325.2 283.1l7.5 -7.5M327.0 276.5l7.5 7.5M327.0 284.0l7.5 -7.5M328.9 277.4l7.5 7.5M328.9 284.9l7.5 -7.5M330.8 278.3l7.5 7.5M330.8 285.8l7.5 -7.5M332.9 279.1l7.5 7.5M332.9 286.6l7.5 -7.5M335.1 280.0l7.5 7.5M335.1 287.5l7.5 -7.5M337.3 280.9l7.5 7.5M337.3 288.4l7.5 -7.5M339.6 281.7l7.5 7.5M339.6 289.2l7.5 -7.5M341.9 282.6l7.5 7.5M341.9 290.1l7.5 -7.5M344.2 283.4l7.5 7.5M344.2 290.9l7.5 -7.5M346.6 284.3l7.5 7.5M346.6 291.8l7.5 -7.5M349.0 285.1l7.5 7.5M349.0 292.6l7.5 -7.5M351.3 285.9l7.5 7.5M351.3 293.4l7.5 -7.5M353.7 286.8l7.5 7.5M353.7 294.3l7.5 -7.5M356.1 287.6l7.5 7.5M356.1 295.1l7.5 -7.5M358.5 288.4l7.5 7.5M358.5 295.9l7.5 -7.5M360.9 289.3l7.5 7.5M360.9 296.8l7.5 -7.5M363.4 290.1l7.5 7.5M363.4 297.6l7.5 -7.5M365.8 290.9l7.5 7.5M365.8 298.4l7.5 -7.5M368.3 291.7l7.5 7.5M368.3 299.2l7.5 -7.5M370.7 292.5l7.5 7.5M370.7 300.0l7.5 -7.5M373.2 293.3l7.5 7.5M373.2 300.8l7.5 -7.5M375.6 294.1l7.5 7.5M375.6 301.6l7.5 -7.5M378.0 294.9l7.5 7.5M378.0 302.4l7.5 -7.5M380.4 295.7l7.5 7.5M380.4 303.2l7.5 -7.5M382.9 296.5l7.5 7.5M382.9 304.0l7.5 -7.5M385.3 297.3l7.5 7.5M385.3 304.8l7.5 -7.5M387.7 298.1l7.5 7.5M387.7 305.6l7.5 -7.5M390.1 298.9l7.5 7.5M390.1 306.4l7.5 -7.5M392.5 299.7l7.5 7.5M392.5 307.2l7.5 -7.5M394.9 300.4l7.5 7.5M394.9 307.9l7.5 -7.5M397.4 301.2l7.5 7.5M397.4 308.7l7.5 -7.5M399.8 302.0l7.5 7.5M399.8 309.5l7.5 -7.5M402.3 302.7l7.5 7.5M402.3 310.2l7.5 -7.5M404.8 303.5l7.5 7.5M404.8 311.0l7.5 -7.5M407.4 304.2l7.5 7.5M407.4 311.7l7.5 -7.5M409.9 305.0l7.5 7.5M409.9 312.5l7.5 -7.5M412.5 305.8l7.5 7.5M412.5 313.3l7.5 -7.5M415.1 306.5l7.5 7.5M415.1 314.0l7.5 -7.5M417.7 307.3l7.5 7.5M417.7 314.8l7.5 -7.5M420.2 308.0l7.5 7.5M420.2 315.5l7.5 -7.5M422.7 308.7l7.5 7.5M422.7 316.2l7.5 -7.5M425.1 309.5l7.5 7.5M425.1 317.0l7.5 -7.5M427.5 310.2l7.5 7.5M427.5 317.7l7.5 -7.5M429.9 311.0l7.5 7.5M429.9 318.5l7.5 -7.5M432.2 311.7l7.5 7.5M432.2 319.2l7.5 -7.5M434.4 312.4l7.5 7.5M434.4 319.9l7.5 -7.5M436.7 313.2l7.5 7.5M436.7 320.7l7.5 -7.5M438.9 313.9l7.5 7.5M438.9 321.4l7.5 -7.5M441.2 314.6l7.5 7.5M441.2 322.1l7.5 -7.5M443.5 315.4l7.5 7.5M443.5 322.9l7.5 -7.5M445.8 316.1l7.5 7.5M445.8 323.6l7.5 -7.5M448.1 316.8l7.5 7.5M448.1 324.3l7.5 -7.5M450.5 317.6l7.5 7.5M450.5 325.1l7.5 -7.5M453.0 318.3l7.5 7.5M453.0 325.8l7.5 -7.5M458.1 319.8l7.5 7.5M458.1 327.3l7.5 -7.5M460.8 320.5l7.5 7.5M460.8 328.0l7.5 -7.5M463.4 321.2l7.5 7.5M463.4 328.7l7.5 -7.5M466.1 322.0l7.5 7.5M466.1 329.5l7.5 -7.5M468.7 322.7l7.5 7.5M468.7 330.2l7.5 -7.5M471.4 323.4l7.5 7.5M471.4 330.9l7.5 -7.5M474.0 324.2l7.5 7.5M474.0 331.7l7.5 -7.5M476.5 324.9l7.5 7.5M476.5 332.4l7.5 -7.5M479.1 325.6l7.5 7.5M479.1 333.1l7.5 -7.5M481.6 326.4l7.5 7.5M481.6 333.9l7.5 -7.5M484.2 327.1l7.5 7.5M484.2 334.6l7.5 -7.5M486.7 327.8l7.5 7.5M486.7 335.3l7.5 -7.5M489.3 328.6l7.5 7.5M489.3 336.1l7.5 -7.5M491.8 329.3l7.5 7.5M491.8 336.8l7.5 -7.5M494.2 330.1l7.5 7.5M494.2 337.6l7.5 -7.5M496.6 330.8l7.5 7.5M496.6 338.3l7.5 -7.5M499.0 331.6l7.5 7.5M499.0 339.1l7.5 -7.5M501.3 332.3l7.5 7.5M501.3 339.8l7.5 -7.5M503.5 333.1l7.5 7.5M503.5 340.6l7.5 -7.5M505.7 333.8l7.5 7.5M505.7 341.3l7.5 -7.5M507.8 334.6l7.5 7.5M507.8 342.1l7.5 -7.5M509.9 335.4l7.5 7.5M509.9 342.9l7.5 -7.5M512.0 336.1l7.5 7.5M512.0 343.6l7.5 -7.5M514.1 336.9l7.5 7.5M514.1 344.4l7.5 -7.5M516.2 337.7l7.5 7.5M516.2 345.2l7.5 -7.5M518.2 338.4l7.5 7.5M518.2 345.9l7.5 -7.5M520.2 339.2l7.5 7.5M520.2 346.7l7.5 -7.5M522.3 340.0l7.5 7.5M522.3 347.5l7.5 -7.5M524.3 340.8l7.5 7.5M524.3 348.3l7.5 -7.5M526.4 341.6l7.5 7.5M526.4 349.1l7.5 -7.5M528.4 342.4l7.5 7.5M528.4 349.9l7.5 -7.5M530.5 343.2l7.5 7.5M530.5 350.7l7.5 -7.5M532.5 344.0l7.5 7.5M532.5 351.5l7.5 -7.5M534.5 344.8l7.5 7.5M534.5 352.3l7.5 -7.5M536.5 345.6l7.5 7.5M536.5 353.1l7.5 -7.5M538.4 346.4l7.5 7.5M538.4 353.9l7.5 -7.5M540.4 347.2l7.5 7.5M540.4 354.7l7.5 -7.5M542.4 348.0l7.5 7.5M542.4 355.5l7.5 -7.5M544.4 348.8l7.5 7.5M544.4 356.3l7.5 -7.5M546.5 349.7l7.5 7.5M546.5 357.2l7.5 -7.5M548.5 350.5l7.5 7.5M548.5 358.0l7.5 -7.5M550.6 351.3l7.5 7.5M550.6 358.8l7.5 -7.5M552.7 352.2l7.5 7.5M552.7 359.7l7.5 -7.5M554.8 353.0l7.5 7.5M554.8 360.5l7.5 -7.5M557.0 353.8l7.5 7.5M557.0 361.3l7.5 -7.5M559.2 354.7l7.5 7.5M559.2 362.2l7.5 -7.5M561.5 355.6l7.5 7.5M561.5 363.1l7.5 -7.5M563.8 356.4l7.5 7.5M563.8 363.9l7.5 -7.5M566.1 357.3l7.5 7.5M566.1 364.8l7.5 -7.5M568.5 358.1l7.5 7.5M568.5 365.6l7.5 -7.5M570.8 359.0l7.5 7.5M570.8 366.5l7.5 -7.5M573.1 359.9l7.5 7.5M573.1 367.4l7.5 -7.5M575.4 360.7l7.5 7.5M575.4 368.2l7.5 -7.5M577.7 361.6l7.5 7.5M577.7 369.1l7.5 -7.5M579.9 362.5l7.5 7.5M579.9 370.0l7.5 -7.5M582.1 363.4l7.5 7.5M582.1 370.9l7.5 -7.5M584.2 364.3l7.5 7.5M584.2 371.8l7.5 -7.5M586.3 365.2l7.5 7.5M586.3 372.7l7.5 -7.5M588.4 366.1l7.5 7.5M588.4 373.6l7.5 -7.5M590.4 367.0l7.5 7.5M590.4 374.5l7.5 -7.5M592.4 367.9l7.5 7.5M592.4 375.4l7.5 -7.5M594.4 368.8l7.5 7.5M594.4 376.3l7.5 -7.5M596.3 369.7l7.5 7.5M596.3 377.2l7.5 -7.5M598.1 370.6l7.5 7.5M598.1 378.1l7.5 -7.5M600.0 371.5l7.5 7.5M600.0 379.0l7.5 -7.5M601.8 372.4l7.5 7.5M601.8 379.9l7.5 -7.5M603.5 373.3l7.5 7.5M603.5 380.8l7.5 -7.5M605.2 374.2l7.5 7.5M605.2 381.7l7.5 -7.5M606.9 375.1l7.5 7.5M606.9 382.6l7.5 -7.5M608.4 376.1l7.5 7.5M608.4 383.6l7.5 -7.5M609.9 377.0l7.5 7.5M609.9 384.5l7.5 -7.5M611.4 377.9l7.5 7.5M611.4 385.4l7.5 -7.5M612.7 378.8l7.5 7.5M612.7 386.3l7.5 -7.5M614.1 379.8l7.5 7.5M614.1 387.3l7.5 -7.5M615.4 380.7l7.5 7.5M615.4 388.2l7.5 -7.5M616.8 381.6l7.5 7.5M616.8 389.1l7.5 -7.5M618.1 382.6l7.5 7.5M618.1 390.1l7.5 -7.5M619.5 383.5l7.5 7.5M619.5 391.0l7.5 -7.5M620.9 384.4l7.5 7.5M620.9 391.9l7.5 -7.5M622.3 385.4l7.5 7.5M622.3 392.9l7.5 -7.5M623.6 386.3l7.5 7.5M623.6 393.8l7.5 -7.5M624.9 387.2l7.5 7.5M624.9 394.7l7.5 -7.5M626.1 388.2l7.5 7.5M626.1 395.7l7.5 -7.5M627.2 389.1l7.5 7.5M627.2 396.6l7.5 -7.5M628.3 390.1l7.5 7.5M628.3 397.6l7.5 -7.5M629.3 391.0l7.5 7.5M629.3 398.5l7.5 -7.5M630.3 391.9l7.5 7.5M630.3 399.4l7.5 -7.5M631.2 392.9l7.5 7.5M631.2 400.4l7.5 -7.5M632.2 393.8l7.5 7.5M632.2 401.3l7.5 -7.5M633.1 394.8l7.5 7.5M633.1 402.3l7.5 -7.5M634.0 395.7l7.5 7.5M634.0 403.2l7.5 -7.5M634.8 396.7l7.5 7.5M634.8 404.2l7.5 -7.5M635.7 397.6l7.5 7.5M635.7 405.1l7.5 -7.5M636.5 398.5l7.5 7.5M636.5 406.0l7.5 -7.5M637.3 399.5l7.5 7.5M637.3 407.0l7.5 -7.5M638.1 400.4l7.5 7.5M638.1 407.9l7.5 -7.5M638.8 401.4l7.5 7.5M638.8 408.9l7.5 -7.5M639.5 402.3l7.5 7.5M639.5 409.8l7.5 -7.5M640.2 403.3l7.5 7.5M640.2 410.8l7.5 -7.5M640.9 404.2l7.5 7.5M640.9 411.7l7.5 -7.5M641.5 405.2l7.5 7.5M641.5 412.7l7.5 -7.5M642.1 406.1l7.5 7.5M642.1 413.6l7.5 -7.5M642.7 407.1l7.5 7.5M642.7 414.6l7.5 -7.5M643.3 408.0l7.5 7.5M643.3 415.5l7.5 -7.5M643.9 409.0l7.5 7.5M643.9 416.5l7.5 -7.5M644.4 409.9l7.5 7.5M644.4 417.4l7.5 -7.5M644.9 410.9l7.5 7.5M644.9 418.4l7.5 -7.5M645.4 411.8l7.5 7.5M645.4 419.3l7.5 -7.5M645.9 412.8l7.5 7.5M645.9 420.3l7.5 -7.5M646.4 413.7l7.5 7.5M646.4 421.2l7.5 -7.5M646.9 414.7l7.5 7.5M646.9 422.2l7.5 -7.5M647.3 415.6l7.5 7.5M647.3 423.1l7.5 -7.5M647.8 416.6l7.5 7.5M647.8 424.1l7.5 -7.5M648.2 417.5l7.5 7.5M648.2 425.0l7.5 -7.5M648.6 418.5l7.5 7.5M648.6 426.0l7.5 -7.5M649.0 419.4l7.5 7.5M649.0 426.9l7.5 -7.5M649.4 420.4l7.5 7.5M649.4 427.9l7.5 -7.5M649.8 421.3l7.5 7.5M649.8 428.8l7.5 -7.5M650.1 422.3l7.5 7.5M650.1 429.8l7.5 -7.5M650.5 423.2l7.5 7.5M650.5 430.7l7.5 -7.5M650.8 424.2l7.5 7.5M650.8 431.7l7.5 -7.5M651.2 425.1l7.5 7.5M651.2 432.6l7.5 -7.5M651.5 426.1l7.5 7.5M651.5 433.6l7.5 -7.5M651.8 427.0l7.5 7.5M651.8 434.5l7.5 -7.5M652.1 428.0l7.5 7.5M652.1 435.5l7.5 -7.5M652.4 428.9l7.5 7.5M652.4 436.4l7.5 -7.5M652.7 429.9l7.5 7.5M652.7 437.4l7.5 -7.5M652.9 430.8l7.5 7.5M652.9 438.3l7.5 -7.5M653.2 431.8l7.5 7.5M653.2 439.3l7.5 -7.5M653.5 432.7l7.5 7.5M653.5 440.2l7.5 -7.5M653.7 433.7l7.5 7.5M653.7 441.2l7.5 -7.5M653.9 434.6l7.5 7.5M653.9 442.1l7.5 -7.5M654.1 435.6l7.5 7.5M654.1 443.1l7.5 -7.5M654.3 436.5l7.5 7.5M654.3 444.0l7.5 -7.5M654.5 437.5l7.5 7.5M654.5 445.0l7.5 -7.5M654.6 438.4l7.5 7.5M654.6 445.9l7.5 -7.5M654.8 439.4l7.5 7.5M654.8 446.9l7.5 -7.5M655.0 440.3l7.5 7.5M655.0 447.8l7.5 -7.5M655.1 441.3l7.5 7.5M655.1 448.8l7.5 -7.5M655.2 442.2l7.5 7.5M655.2 449.7l7.5 -7.5M655.4 443.2l7.5 7.5M655.4 450.7l7.5 -7.5M655.5 444.1l7.5 7.5M655.5 451.6l7.5 -7.5M655.6 445.1l7.5 7.5M655.6 452.6l7.5 -7.5M655.7 446.0l7.5 7.5M655.7 453.5l7.5 -7.5M655.8 447.0l7.5 7.5M655.8 454.5l7.5 -7.5M655.8 447.9l7.5 7.5M655.8 455.4l7.5 -7.5M655.9 448.9l7.5 7.5M655.9 456.4l7.5 -7.5M655.9 449.8l7.5 7.5M655.9 457.3l7.5 -7.5M656.0 450.8l7.5 7.5M656.0 458.3l7.5 -7.5M656.0 451.7l7.5 7.5M656.0 459.2l7.5 -7.5M656.0 452.7l7.5 7.5M656.0 460.2l7.5 -7.5M656.1 453.6l7.5 7.5M656.1 461.1l7.5 -7.5M656.1 454.6l7.5 7.5M656.1 462.1l7.5 -7.5M656.1 455.5l7.5 7.5M656.1 463.0l7.5 -7.5M656.1 456.5l7.5 7.5M656.1 464.0l7.5 -7.5M656.2 457.4l7.5 7.5M656.2 464.9l7.5 -7.5M656.2 458.4l7.5 7.5M656.2 465.9l7.5 -7.5M656.2 459.3l7.5 7.5M656.2 466.8l7.5 -7.5M656.2 460.3l7.5 7.5M656.2 467.8l7.5 -7.5M656.3 461.2l7.5 7.5M656.3 468.7l7.5 -7.5M656.3 462.2l7.5 7.5M656.3 469.7l7.5 -7.5M656.3 463.1l7.5 7.5M656.3 470.6l7.5 -7.5M656.3 464.1l7.5 7.5M656.3 471.6l7.5 -7.5M656.3 465.0l7.5 7.5M656.3 472.5l7.5 -7.5M656.3 466.0l7.5 7.5M656.3 473.5l7.5 -7.5M656.3 466.9l7.5 7.5M656.3 474.4l7.5 -7.5M656.4 467.9l7.5 7.5M656.4 475.4l7.5 -7.5M656.4 468.8l7.5 7.5M656.4 476.3l7.5 -7.5M656.4 469.8l7.5 7.5M656.4 477.3l7.5 -7.5M656.4 470.7l7.5 7.5M656.4 478.2l7.5 -7.5M656.4 471.7l7.5 7.5M656.4 479.2l7.5 -7.5M656.4 472.6l7.5 7.5M656.4 480.1l7.5 -7.5M656.4 473.6l7.5 7.5M656.4 481.1l7.5 -7.5M656.5 474.5l7.5 7.5M656.5 482.0l7.5 -7.5M656.5 475.4l7.5 7.5M656.5 482.9l7.5 -7.5M656.5 476.4l7.5 7.5M656.5 483.9l7.5 -7.5M656.6 477.3l7.5 7.5M656.6 484.8l7.5 -7.5M656.6 478.3l7.5 7.5M656.6 485.8l7.5 -7.5M656.7 479.2l7.5 7.5M656.7 486.7l7.5 -7.5M656.9 480.2l7.5 7.5M656.9 487.7l7.5 -7.5M657.1 481.1l7.5 7.5M657.1 488.6l7.5 -7.5M657.3 482.1l7.5 7.5M657.3 489.6l7.5 -7.5M657.6 483.0l7.5 7.5M657.6 490.5l7.5 -7.5M657.9 484.0l7.5 7.5M657.9 491.5l7.5 -7.5M658.2 484.9l7.5 7.5M658.2 492.4l7.5 -7.5M658.6 485.8l7.5 7.5M658.6 493.3l7.5 -7.5M658.9 486.8l7.5 7.5M658.9 494.3l7.5 -7.5M659.3 487.7l7.5 7.5M659.3 495.2l7.5 -7.5M659.7 488.6l7.5 7.5M659.7 496.1l7.5 -7.5M660.2 489.5l7.5 7.5M660.2 497.0l7.5 -7.5M660.8 490.5l7.5 7.5M660.8 498.0l7.5 -7.5M661.4 491.4l7.5 7.5M661.4 498.9l7.5 -7.5M662.1 492.3l7.5 7.5M662.1 499.8l7.5 -7.5M662.9 493.2l7.5 7.5M662.9 500.7l7.5 -7.5M663.7 494.0l7.5 7.5M663.7 501.5l7.5 -7.5M664.6 494.9l7.5 7.5M664.6 502.4l7.5 -7.5M665.5 495.8l7.5 7.5M665.5 503.3l7.5 -7.5M666.5 496.6l7.5 7.5M666.5 504.1l7.5 -7.5M667.5 497.5l7.5 7.5M667.5 505.0l7.5 -7.5M668.7 498.3l7.5 7.5M668.7 505.8l7.5 -7.5M670.0 499.1l7.5 7.5M670.0 506.6l7.5 -7.5M671.5 500.0l7.5 7.5M671.5 507.5l7.5 -7.5M673.0 500.8l7.5 7.5M673.0 508.3l7.5 -7.5M674.7 501.6l7.5 7.5M674.7 509.1l7.5 -7.5M676.4 502.4l7.5 7.5M676.4 509.9l7.5 -7.5M678.2 503.1l7.5 7.5M678.2 510.6l7.5 -7.5M680.1 503.9l7.5 7.5M680.1 511.4l7.5 -7.5M682.4 504.7l7.5 7.5M682.4 512.2l7.5 -7.5M684.9 505.4l7.5 7.5M684.9 512.9l7.5 -7.5M687.5 506.2l7.5 7.5M687.5 513.7l7.5 -7.5M690.2 506.9l7.5 7.5M690.2 514.4l7.5 -7.5M692.8 507.7l7.5 7.5M692.8 515.2l7.5 -7.5M695.3 508.4l7.5 7.5M695.3 515.9l7.5 -7.5M697.9 509.2l7.5 7.5M697.9 516.7l7.5 -7.5M700.4 509.9l7.5 7.5M700.4 517.4l7.5 -7.5M703.1 510.7l7.5 7.5M703.1 518.2l7.5 -7.5M705.7 511.5l7.5 7.5M705.7 519.0l7.5 -7.5M708.5 512.2l7.5 7.5M708.5 519.7l7.5 -7.5M711.4 513.0l7.5 7.5M711.4 520.5l7.5 -7.5M714.5 513.8l7.5 7.5M714.5 521.3l7.5 -7.5M717.7 514.5l7.5 7.5M717.7 522.0l7.5 -7.5M721.2 515.3l7.5 7.5M721.2 522.8l7.5 -7.5M724.8 516.1l7.5 7.5M724.8 523.6l7.5 -7.5M728.5 516.9l7.5 7.5M728.5 524.4l7.5 -7.5M732.2 517.8l7.5 7.5M732.2 525.3l7.5 -7.5M735.9 518.6l7.5 7.5M735.9 526.1l7.5 -7.5M739.5 519.4l7.5 7.5M739.5 526.9l7.5 -7.5M743.3 520.3l7.5 7.5M743.3 527.8l7.5 -7.5M747.3 521.1l7.5 7.5M747.3 528.6l7.5 -7.5M751.7 522.0l7.5 7.5M751.7 529.5l7.5 -7.5M756.6 522.9l7.5 7.5M756.6 530.4l7.5 -7.5M761.7 523.8l7.5 7.5M761.7 531.3l7.5 -7.5M767.2 524.7l7.5 7.5M767.2 532.2l7.5 -7.5M772.9 525.6l7.5 7.5M772.9 533.1l7.5 -7.5M778.7 526.5l7.5 7.5M778.7 534.0l7.5 -7.5M784.7 527.4l7.5 7.5M784.7 534.9l7.5 -7.5M790.9 528.3l7.5 7.5M790.9 535.8l7.5 -7.5M797.3 529.2l7.5 7.5M797.3 536.7l7.5 -7.5M802.1 529.9l7.5 7.5M802.1 537.4l7.5 -7.5M746.9 146.4l7.5 7.5M746.9 153.9l7.5 -7.5" stroke="#00ff00" stroke-width="2.0" fill="none"/><rect x="81.1" y="110.8" width="724.75" height="422.85" fill="none" stroke="#000" stroke-width="1.5"/><path d="M226.05 533.65v-7.5M371.00 533.65v-7.5M515.95 533.65v-7.5M660.90 533.65v-7.5M207.14 110.80v7.5M333.19 110.80v7.5M459.23 110.80v7.5M585.27 110.80v7.5M711.32 110.80v7.5M81.10 491.37h7.5M805.85 491.37h-7.5M81.10 449.08h7.5M805.85 449.08h-7.5M81.10 406.79h7.5M805.85 406.79h-7.5M81.10 364.51h7.5M805.85 364.51h-7.5M81.10 322.23h7.5M805.85 322.23h-7.5M81.10 279.94h7.5M805.85 279.94h-7.5M81.10 237.66h7.5M805.85 237.66h-7.5M81.10 195.37h7.5M805.85 195.37h-7.5M81.10 153.08h7.5M805.85 153.08h-7.5" stroke="#000" stroke-width="1.5" fill="none"/></svg></div>
</body>
</html>
